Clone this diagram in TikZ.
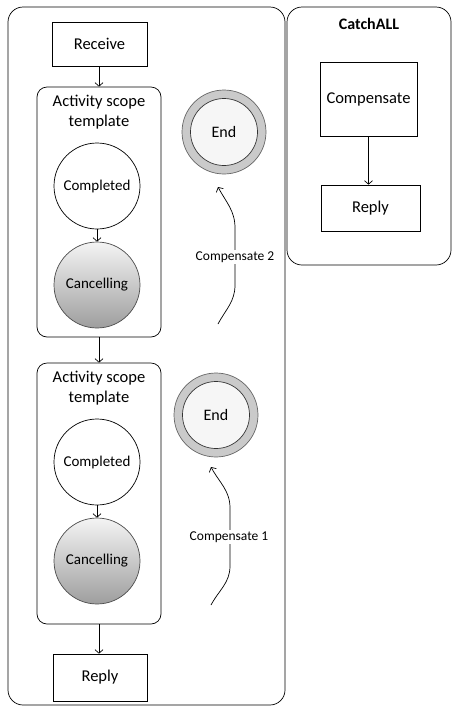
\documentclass[tikz,border=0pt]{standalone}
\usepackage{fontspec}
\setmainfont{Carlito}
\usetikzlibrary{arrows.meta}
\definecolor{ringgray}{RGB}{202,202,202}
\definecolor{innergray}{RGB}{246,246,246}
\definecolor{canctop}{RGB}{244,244,244}
\definecolor{cancbot}{RGB}{158,158,158}
\tikzset{
  every path/.style={line width=0.7pt},
  container/.style={draw, rounded corners=15pt, inner sep=0pt},
  scopebox/.style={draw, rounded corners=10pt, inner sep=0pt},
  boxnode/.style={draw, rectangle, inner sep=0pt, font=\fontsize{16.5}{19}\selectfont},
  titletext/.style={align=center, font=\fontsize{16.5}{20}\selectfont, inner sep=0pt},
  statecirc/.style={draw, circle, minimum size=86pt, inner sep=0pt, font=\fontsize{15}{18}\selectfont},
  cancelcirc/.style={statecirc, draw=black!70, top color=canctop, bottom color=cancbot, shading angle=0},
  endouter/.style={draw=black!60, circle, minimum size=84pt, inner sep=0pt, fill=ringgray},
  endinner/.style={draw=black!80, circle, minimum size=67pt, inner sep=0pt, fill=innergray, font=\fontsize{16}{19}\selectfont},
  arr/.style={-{Straight Barb[length=3.5pt,width=8pt]}},
  lbl/.style={fill=white, inner sep=1.5pt, font=\fontsize{13.5}{16}\selectfont},
}
\begin{document}
\begin{tikzpicture}[x=1pt,y=-1pt]
\useasboundingbox (0,0) rectangle (454,713);
% containers
\node[container, minimum width=277pt, minimum height=698pt] (outer) at (146.5,356) {};
\node[container, minimum width=164pt, minimum height=258pt] (catch) at (369,136) {};
\node[font=\bfseries\fontsize{16}{19}\selectfont, inner sep=0pt] (catchtitle) at (369,24) {CatchALL};
% catch contents
\node[boxnode, minimum width=97pt, minimum height=74pt] (comp) at (368.5,99) {Compensate};
\node[boxnode, minimum width=99pt, minimum height=46pt] (reply1) at (370.5,208) {Reply};
\draw[arr] (comp.south) -- (comp.south |- reply1.north);
% left column
\node[boxnode, minimum width=95pt, minimum height=44pt] (receive) at (99.5,44) {Receive};
\node[scopebox, minimum width=124pt, minimum height=250pt] (s1) at (99,212) {};
\node[titletext] (s1t) at (99,112) {Activity scope\\template};
\node[statecirc] (comp1) at (97,186) {Completed};
\node[cancelcirc] (canc1) at (97,285) {Cancelling};
\node[endouter] (end1o) at (224,132) {};
\node[endinner] (end1) at (224,132) {End};
\node[scopebox, minimum width=124pt, minimum height=261pt] (s2) at (99,493.5) {};
\node[titletext] (s2t) at (99,388) {Activity scope\\template};
\node[statecirc] (comp2) at (97,462) {Completed};
\node[cancelcirc] (canc2) at (97,561) {Cancelling};
\node[endouter] (end2o) at (216,415) {};
\node[endinner] (end2) at (216,415) {End};
\node[boxnode, minimum width=94pt, minimum height=47pt] (reply2) at (100,677.5) {Reply};
% connectors
\draw[arr] (receive.south -| s1.north) -- (s1.north);
\draw[arr] (comp1.south) -- (canc1.north);
\draw[arr] (s1.south) -- (s2.north);
\draw[arr] (comp2.south) -- (canc2.north);
\draw[arr] (s2.south) -- (s2.south |- reply2.north);
% compensate arrows
\coordinate (c2s) at (218,324);
\coordinate (c2e) at (218,187);
\coordinate (c2a) at (235,285);
\coordinate (c2b) at (235,228);
\draw[arr] (c2s) to[out=62,in=-90] (c2a) -- (c2b) to[out=90,in=-62] (c2e);
\node[lbl] (l2) at (235,257) {Compensate 2};
\coordinate (c1s) at (211,605);
\coordinate (c1e) at (211,467);
\coordinate (c1a) at (230,566);
\coordinate (c1b) at (230,508);
\draw[arr] (c1s) to[out=62,in=-90] (c1a) -- (c1b) to[out=90,in=-62] (c1e);
\node[lbl] (l1) at (229,537) {Compensate 1};
\end{tikzpicture}
\end{document}
